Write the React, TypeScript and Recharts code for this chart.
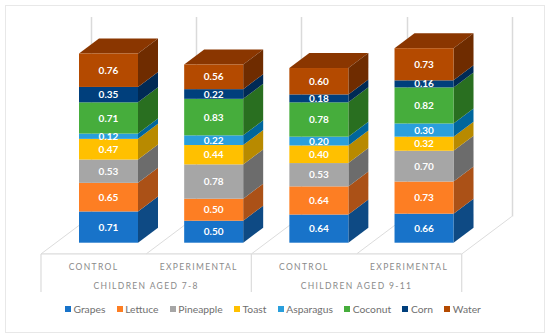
import React from 'react';
import { BarChart, Bar, XAxis, YAxis, Legend, LabelList, CartesianGrid } from 'recharts';

const categories = ['CONTROL', 'EXPERIMENTAL', 'CONTROL', 'EXPERIMENTAL'];
const groups = ['CHILDREN AGED 7-8', 'CHILDREN AGED 9-11'];
const grapes = [0.71, 0.5, 0.64, 0.66];
const lettuce = [0.65, 0.5, 0.64, 0.73];
const pineapple = [0.53, 0.78, 0.53, 0.7];
const toast = [0.47, 0.44, 0.4, 0.32];
const asparagus = [0.12, 0.22, 0.2, 0.3];
const coconut = [0.71, 0.83, 0.78, 0.82];
const corn = [0.35, 0.22, 0.18, 0.16];
const water = [0.76, 0.56, 0.6, 0.73];

const seriesList = [
  { name: 'Grapes', values: grapes, front: '#1873c9', side: '#0e4a84', top: '#0e4a84' },
  { name: 'Lettuce', values: lettuce, front: '#fd7e23', side: '#ab5117', top: '#ab5117' },
  { name: 'Pineapple', values: pineapple, front: '#a6a6a6', side: '#6c6c6c', top: '#6c6c6c' },
  { name: 'Toast', values: toast, front: '#ffc000', side: '#b88a00', top: '#b88a00' },
  { name: 'Asparagus', values: asparagus, front: '#2a9fdc', side: '#00669c', top: '#00669c' },
  { name: 'Coconut', values: coconut, front: '#46ad3c', side: '#296f20', top: '#296f20' },
  { name: 'Corn', values: corn, front: '#003f7c', side: '#002a55', top: '#002a55' },
  { name: 'Water', values: water, front: '#b44a00', side: '#6f2c00', top: '#8a3600' },
];

const rows = categories.map((category, i) => {
  const row: Record<string, string | number> = { category };
  seriesList.forEach((s) => {
    row[s.name] = s.values[i];
  });
  return row;
});

const DX = 20;
const DY = 15;
const BAND = 105.2;
const PLOT_LEFT = 56;
const AXIS_COLOR = '#dcdcdc';
const WALL_COLOR = '#dadada';
const FONT = 'Lato, "Open Sans", sans-serif';
const wallPoints = [0, 1, 2, 3, 4].map((i) => PLOT_LEFT - 15 + BAND * i);

const makeCuboid = (s: (typeof seriesList)[number], isTop: boolean) => (props: any) => {
  const { x, y, width: w, height: h } = props;
  return (
    <g>
      {isTop && (
        <polygon
          points={`${x},${y} ${x + DX},${y - DY} ${x + w + DX},${y - DY} ${x + w},${y}`}
          fill={s.top}
        />
      )}
      <polygon
        points={`${x + w},${y} ${x + w + DX},${y - DY} ${x + w + DX},${y + h - DY} ${x + w},${y + h}`}
        fill={s.side}
      />
      <rect x={x} y={y} width={w} height={h} fill={s.front} />
    </g>
  );
};

const WallLine = (props: any) => {
  const { x1 } = props;
  const bottom = Math.max(props.y1, props.y2);
  const floorY = bottom + 11.25;
  const backX = Math.round(x1 + 50) + 0.5;
  return (
    <g>
      <line x1={x1} y1={floorY} x2={x1 + 50} y2={floorY - 37.5} stroke={AXIS_COLOR} strokeWidth={1} />
      <line x1={backX} y1={floorY - 37.5} x2={backX} y2={17} stroke={WALL_COLOR} strokeWidth={1.5} />
    </g>
  );
};

const FloorTick = (props: any) => {
  const { x, y, payload, index } = props;
  const left = x - BAND / 2 - 15;
  const floorY = y + 11.25;
  const text = { textAnchor: 'middle' as const, fontFamily: FONT, fontSize: 8.5, letterSpacing: 1.35, fill: '#8a8a8a' };
  return (
    <g>
      <line x1={left} y1={floorY} x2={left + BAND} y2={floorY} stroke={AXIS_COLOR} strokeWidth={1.2} />
      {index % 2 === 0 && (
        <line x1={left} y1={floorY} x2={left} y2={floorY + 38} stroke={AXIS_COLOR} strokeWidth={1.2} />
      )}
      {index === 3 && (
        <line x1={left + BAND} y1={floorY} x2={left + BAND} y2={floorY + 38} stroke={AXIS_COLOR} strokeWidth={1.2} />
      )}
      <text x={x - 15} y={floorY + 16.5} {...text}>
        {payload.value}
      </text>
      {index % 2 === 0 && (
        <text x={x - 15 + BAND / 2} y={floorY + 35.5} {...text}>
          {groups[index / 2]}
        </text>
      )}
    </g>
  );
};

const LegendContent = () => (
  <div style={{ display: 'flex', justifyContent: 'flex-start', paddingLeft: 65, fontFamily: FONT, fontSize: 10.3, color: '#6f6f6f', lineHeight: '14px' }}>
    {seriesList.map((s) => (
      <span key={s.name} style={{ display: 'inline-flex', alignItems: 'center', marginRight: 11.3 }}>
        <span style={{ width: 6, height: 6, background: s.front, marginRight: 2.5, display: 'inline-block' }} />
        {s.name}
      </span>
    ))}
  </div>
);

export default function App() {
  return (
    <div style={{ position: 'absolute', left: 0, top: 0, width: 550, height: 336, background: '#fff' }}>
      <div style={{ position: 'absolute', left: 5, top: 4.5, width: 538, height: 326, border: '1.5px solid #e8e8e8' }} />
      <BarChart
        width={550}
        height={336}
        data={rows}
        barCategoryGap={0}
        margin={{ top: 22.7, right: 73.3, bottom: 19.3, left: PLOT_LEFT }}
      >
        <CartesianGrid horizontal={false} vertical={(p: any) => <WallLine key={p.index} {...p} />} verticalPoints={wallPoints} />
        <XAxis dataKey="category" height={60} axisLine={false} tickLine={false} tickSize={0} tickMargin={0} tick={<FloorTick />} interval={0} />
        <YAxis hide width={0} domain={[0, 5]} />
        {seriesList.map((s, i) => (
          <Bar
            key={s.name}
            dataKey={s.name}
            stackId="total"
            barSize={59}
            fill={s.front}
            isAnimationActive={false}
            shape={makeCuboid(s, i === seriesList.length - 1)}
          >
            <LabelList
              dataKey={s.name}
              position="center"
              fill="#ffffff"
              fontFamily={FONT}
              fontSize={10}
              fontWeight={700}
              formatter={(v: any) => Number(v).toFixed(2)}
            />
          </Bar>
        ))}
        <Legend verticalAlign="bottom" content={<LegendContent />} wrapperStyle={{ left: 0, bottom: 20, width: 550 }} />
      </BarChart>
    </div>
  );
}
